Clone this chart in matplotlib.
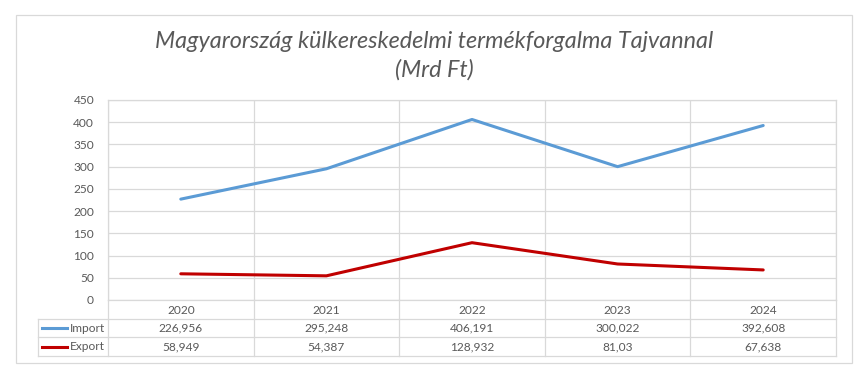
import matplotlib
matplotlib.use("Agg")
import matplotlib.pyplot as plt
from matplotlib.patches import Rectangle

years = ["2020", "2021", "2022", "2023", "2024"]
import_vals = [226.956, 295.248, 406.191, 300.022, 392.608]
export_vals = [58.949, 54.387, 128.932, 81.03, 67.638]
series_names = ["Import", "Export"]
series_colors = ["#5B9BD5", "#C00000"]
y_ticks = [0, 50, 100, 150, 200, 250, 300, 350, 400, 450]
title = "Magyarország külkereskedelmi termékforgalma Tajvannal\n(Mrd Ft)"

W, H = 865, 374
FONT = ["Lato", "DejaVu Sans"]
TXT = "#595959"
GRID = "#D9D9D9"

def fx(px):
    return px / W

def fy(py):
    return 1 - py / H

def fmt(v):
    return f"{v:g}".replace(".", ",")

fig = plt.figure(figsize=(W / 100, H / 100), dpi=100)
fig.patch.set_facecolor("white")

# outer chart border
fig.patches.append(Rectangle((fx(16), fy(363)), fx(852) - fx(16), fy(15) - fy(363),
                             transform=fig.transFigure, fill=False, edgecolor=GRID, lw=0.9))

# plot area
L, R, T, B = 108, 836, 100, 300
ax = fig.add_axes([fx(L), fy(B), fx(R) - fx(L), fy(T) - fy(B)])
x = list(range(len(years)))
ax.plot(x, import_vals, color=series_colors[0], lw=2.2, solid_capstyle="round")
ax.plot(x, export_vals, color=series_colors[1], lw=2.2, solid_capstyle="round")
ax.set_xlim(-0.5, len(years) - 0.5)
ax.set_ylim(0, 450)
ax.set_yticks(y_ticks)
ax.set_yticklabels([str(t) for t in y_ticks], fontsize=8.6, color=TXT, family=FONT)
ax.set_xticks([i + 0.5 for i in range(-1, len(years))], minor=False)
ax.set_xticklabels([])
ax.tick_params(axis="both", length=0, pad=10)
ax.grid(True, color=GRID, lw=0.9)
for s in ax.spines.values():
    s.set_color(GRID)
    s.set_linewidth(0.9)
ax.set_axisbelow(True)

# data table
TL, TB = 38, 356
cat_w = (R - L) / len(years)
tax = fig.add_axes([fx(TL), fy(TB), fx(R) - fx(TL), fy(B) - fy(TB)])
x0 = -0.5 - (L - TL) / cat_w
tax.set_xlim(x0, len(years) - 0.5)
tax.set_ylim(3, 0)
tax.axis("off")
lkw = dict(color=GRID, lw=0.9, clip_on=False)
for yy in [1, 2, 3]:
    tax.plot([x0, len(years) - 0.5], [yy, yy], **lkw)
tax.plot([x0, x0], [1, 3], **lkw)
for i in range(len(years) + 1):
    tax.plot([i - 0.5, i - 0.5], [0, 3], **lkw)
tkw = dict(fontsize=8.6, color=TXT, family=FONT, ha="center", va="center")
for i, yr in enumerate(years):
    tax.text(i, 0.55, yr, **tkw)
    tax.text(i, 1.5, fmt(import_vals[i]), **tkw)
    tax.text(i, 2.5, fmt(export_vals[i]), **tkw)
sw = 25 / cat_w
for r, (name, col) in enumerate(zip(series_names, series_colors)):
    yy = 1.5 + r
    tax.plot([x0 + 4 / cat_w, x0 + 4 / cat_w + sw], [yy, yy], color=col, lw=2.2, clip_on=False)
    tax.text(x0 + 32 / cat_w, yy, name, fontsize=8.6, color=TXT, family=FONT,
             ha="left", va="center")

fig.text(fx(434), fy(56), title, ha="center", va="center", fontsize=16.8,
         style="italic", color=TXT, family=FONT, linespacing=1.42)

fig.savefig("out.png", dpi=100, facecolor="white")
